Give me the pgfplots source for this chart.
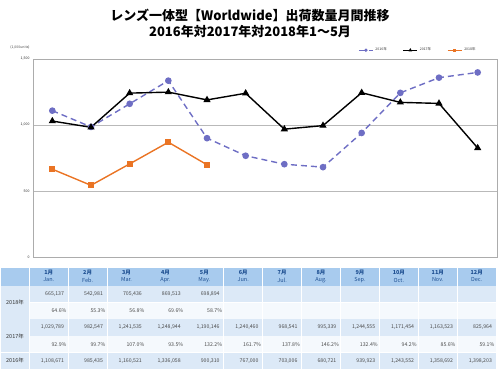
\documentclass[border=0pt]{standalone}
\usepackage{pgfplots}
\pgfplotsset{compat=1.18}
\usepackage{fontspec}
\setmainfont{Noto Sans CJK JP}
\definecolor{c16}{HTML}{6E6EC4}
\definecolor{c17}{HTML}{000000}
\definecolor{c18}{HTML}{EA7424}
\definecolor{hdr}{HTML}{A8CBEE}
\definecolor{rowA}{HTML}{DCE9F7}
\definecolor{rowB}{HTML}{F5F9FD}
\definecolor{hdrtxt}{HTML}{1E4F91}
\definecolor{valtxt}{HTML}{4A4A4A}
\newcommand\val[3]{\node[anchor=east,inner sep=0pt,font=\fontsize{5.2}{6}\selectfont,text=valtxt] at ({29.3+38.9*#1-4},#2) {#3};}
\newcommand\pct[3]{\node[anchor=east,inner sep=0pt,font=\fontsize{5.2}{6}\selectfont,text=valtxt] at ({29.3+38.9*#1-1.5},#2) {#3};}
\begin{document}
\begin{tikzpicture}[x=1pt,y=1pt]
\useasboundingbox (0pt,0pt) rectangle (500pt,373pt);
\node[font=\fontsize{13}{15}\selectfont\bfseries] at (250,357.5) {レンズ一体型【Worldwide】出荷数量月間推移};
\node[font=\fontsize{13}{15}\selectfont\bfseries] at (250,341) {2016年対2017年対2018年1～5月};
\node[font=\fontsize{3.5}{4}\selectfont,text=gray!60!black] at (20,326) {(1,000units)};
\begin{axis}[at={(33pt,116pt)}, anchor=south west, scale only axis, width=464pt, height=198pt,
  xmin=0.5, xmax=12.5, ymin=0, ymax=1500, xtick=\empty,
  ytick={0,500,1000,1500}, yticklabels={0,500,{1,000},{1,500}},
  ymajorgrids, grid style={gray!55, line width=0.6pt},
  axis line style={gray!65, line width=0.7pt}, major tick length=0pt,
  yticklabel style={font=\fontsize{3.5}{4}\selectfont, text=gray!30!black},
  clip=false,
  legend columns=3,
  legend style={at={(0.965,1.012)}, anchor=south east, draw=none, fill=none,
    font=\fontsize{3.5}{4}\selectfont, text=gray!40!black,
    /tikz/every even column/.append style={column sep=14pt}},
  legend image code/.code={\draw[mark repeat=2,mark phase=2,#1,line width=0.9pt,mark size=1.2pt] plot coordinates {(0cm,0cm) (0.25cm,0cm) (0.5cm,0cm)};}
]
\addplot[c16, dash pattern=on 6pt off 4pt, line width=1.4pt, mark=*, mark size=2.6pt, mark options={solid}] coordinates {
(1,1108.671) (2,985.435) (3,1160.521) (4,1336.058) (5,900.310) (6,767.000) (7,703.006) (8,680.721) (9,939.923) (10,1243.552) (11,1358.692) (12,1398.203)};
\addlegendentry{2016年}
\addplot[c17, line width=1.4pt, mark=triangle*, mark size=2.8pt] coordinates {
(1,1029.789) (2,982.547) (3,1241.535) (4,1248.944) (5,1190.146) (6,1240.460) (7,968.541) (8,995.339) (9,1244.555) (10,1171.454) (11,1163.523) (12,825.964)};
\addlegendentry{2017年}
\addplot[c18, line width=1.4pt, mark=square*, mark size=2.4pt] coordinates {
(1,665.137) (2,542.981) (3,705.436) (4,869.513) (5,698.894)};
\addlegendentry{2018年}
\end{axis}
% table backgrounds
\fill[hdr] (1,87.4) rectangle (28.9,104.6);
\fill[rowA] (1,54.4) rectangle (28.9,86.6);
\fill[rowA] (1,20.9) rectangle (28.9,53.6);
\fill[rowA] (1,4) rectangle (28.9,20.1);
\foreach \i in {0,...,11} {
  \fill[hdr] ({29.3+38.9*\i+0.4},87.4) rectangle ({29.3+38.9*(\i+1)-0.4},104.6);
  \fill[rowA] ({29.3+38.9*\i+0.4},70.9) rectangle ({29.3+38.9*(\i+1)-0.4},86.6);
  \fill[rowB] ({29.3+38.9*\i+0.4},54.4) rectangle ({29.3+38.9*(\i+1)-0.4},70.1);
  \fill[rowA] ({29.3+38.9*\i+0.4},37.4) rectangle ({29.3+38.9*(\i+1)-0.4},53.6);
  \fill[rowB] ({29.3+38.9*\i+0.4},20.9) rectangle ({29.3+38.9*(\i+1)-0.4},36.6);
  \fill[rowA] ({29.3+38.9*\i+0.4},4) rectangle ({29.3+38.9*(\i+1)-0.4},20.1);
}
\foreach \i/\m/\e in {1/1月/Jan., 2/2月/Feb., 3/3月/Mar., 4/4月/Apr., 5/5月/May., 6/6月/Jun., 7/7月/Jul., 8/8月/Aug., 9/9月/Sep., 10/10月/Oct., 11/11月/Nov., 12/12月/Dec.} {
  \node[font=\fontsize{5.5}{6}\selectfont\bfseries,text=hdrtxt,inner sep=0pt] at ({29.3+38.9*(\i-0.5)},100.5) {\m};
  \node[font=\fontsize{5.5}{6}\selectfont,text=hdrtxt,inner sep=0pt] at ({29.3+38.9*(\i-0.5)},93) {\e};
}
\node[font=\fontsize{5.5}{6}\selectfont,text=valtxt!70!black,inner sep=0pt] at (15,70.5) {2018年};
\node[font=\fontsize{5.5}{6}\selectfont,text=valtxt!70!black,inner sep=0pt] at (15,37) {2017年};
\node[font=\fontsize{5.5}{6}\selectfont,text=valtxt!70!black,inner sep=0pt] at (15,12.25) {2016年};
% 2018 values
\val{1}{78.75}{665,137}\val{2}{78.75}{542,981}\val{3}{78.75}{705,436}\val{4}{78.75}{869,513}\val{5}{78.75}{698,894}
\pct{1}{62.25}{64.6\%}\pct{2}{62.25}{55.3\%}\pct{3}{62.25}{56.8\%}\pct{4}{62.25}{69.6\%}\pct{5}{62.25}{58.7\%}
% 2017 values
\val{1}{45.5}{1,029,789}\val{2}{45.5}{982,547}\val{3}{45.5}{1,241,535}\val{4}{45.5}{1,248,944}\val{5}{45.5}{1,190,146}\val{6}{45.5}{1,240,460}
\val{7}{45.5}{968,541}\val{8}{45.5}{995,339}\val{9}{45.5}{1,244,555}\val{10}{45.5}{1,171,454}\val{11}{45.5}{1,163,523}\val{12}{45.5}{825,964}
\pct{1}{28.75}{92.9\%}\pct{2}{28.75}{99.7\%}\pct{3}{28.75}{107.0\%}\pct{4}{28.75}{93.5\%}\pct{5}{28.75}{132.2\%}\pct{6}{28.75}{161.7\%}
\pct{7}{28.75}{137.8\%}\pct{8}{28.75}{146.2\%}\pct{9}{28.75}{132.4\%}\pct{10}{28.75}{94.2\%}\pct{11}{28.75}{85.6\%}\pct{12}{28.75}{59.1\%}
% 2016 values
\val{1}{12.25}{1,108,671}\val{2}{12.25}{985,435}\val{3}{12.25}{1,160,521}\val{4}{12.25}{1,336,058}\val{5}{12.25}{900,310}\val{6}{12.25}{767,000}
\val{7}{12.25}{703,006}\val{8}{12.25}{680,721}\val{9}{12.25}{939,923}\val{10}{12.25}{1,243,552}\val{11}{12.25}{1,358,692}\val{12}{12.25}{1,398,203}
\end{tikzpicture}
\end{document}
